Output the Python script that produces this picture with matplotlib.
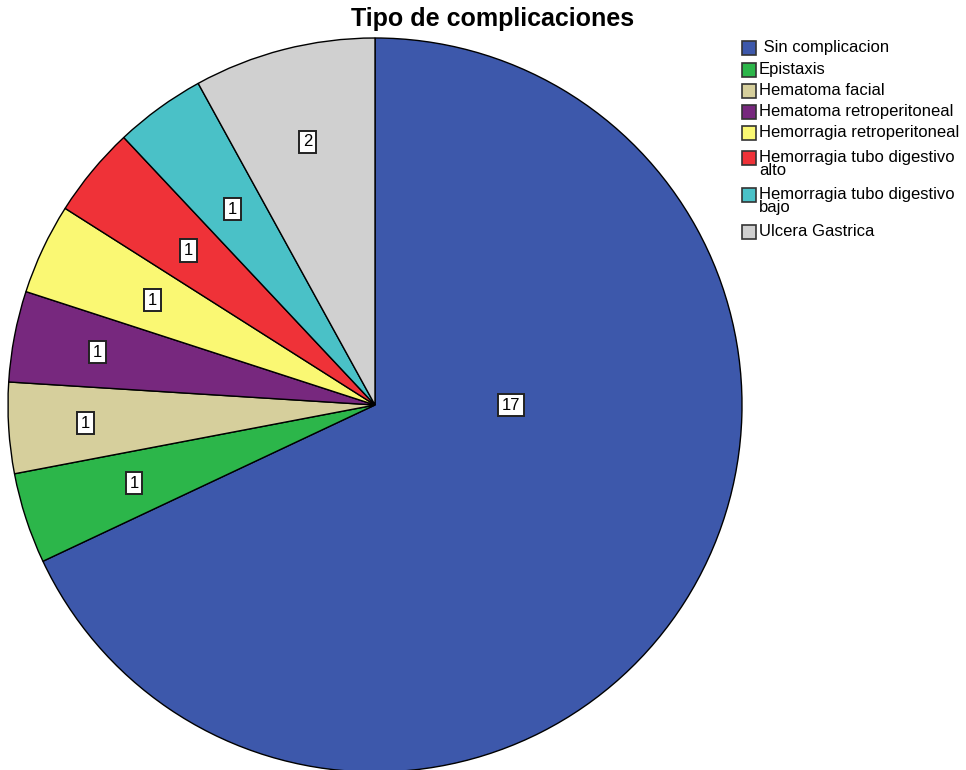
import matplotlib
matplotlib.use("Agg")
import matplotlib.pyplot as plt
from matplotlib.patches import Rectangle
import numpy as np

plt.rcParams['font.family'] = ['Liberation Sans', 'DejaVu Sans']

categories = [" Sin complicacion", "Epistaxis", "Hematoma facial", "Hematoma retroperitoneal",
              "Hemorragia retroperitoneal", "Hemorragia tubo digestivo\nalto",
              "Hemorragia tubo digestivo\nbajo", "Ulcera Gastrica"]
counts = [17, 1, 1, 1, 1, 1, 1, 2]
colors = ["#3D58AB", "#2CB64A", "#D6CF9C", "#77287E", "#FAF873", "#EF3238", "#4AC1C7", "#D0D0D0"]

W, H = 966, 770
fig = plt.figure(figsize=(W / 100, H / 100), dpi=100)

cx, cy, R = 375, 405, 367
ax = fig.add_axes([(cx - R) / W, (H - cy - R) / H, 2 * R / W, 2 * R / H])

wedges, _ = ax.pie(counts, colors=colors, startangle=90, counterclock=False, radius=1,
                   wedgeprops=dict(edgecolor="black", linewidth=1.0),
                   labels=None)
ax.set_xlim(-1, 1)
ax.set_ylim(-1, 1)
ax.axis("off")
for w in wedges:
    w.set_clip_on(False)

# radial placement of the value boxes (fraction of radius)
label_r = [0.37, 0.69, 0.79, 0.77, 0.67, 0.66, 0.66, 0.74]
box = dict(boxstyle="square,pad=0.22", facecolor="white", edgecolor="#222222", linewidth=1.4)
for w, c, r in zip(wedges, counts, label_r):
    if c == max(counts):
        x, y = r, 0.0
    else:
        mid = np.deg2rad((w.theta1 + w.theta2) / 2)
        x, y = r * np.cos(mid), r * np.sin(mid)
    ax.text(x, y, str(c), ha="center", va="center", fontsize=12, bbox=box, zorder=5)

fig.text(493 / W, 1 - 19 / H, "Tipo de complicaciones", ha="center", va="center",
         fontsize=18, fontweight="bold")

# legend drawn by hand
rows = [48, 70, 91, 112, 133, 158, 195, 232]
sq = 14
for lbl, col, yy in zip(categories, colors, rows):
    fig.patches.append(Rectangle(((742) / W, 1 - (yy + sq / 2) / H), sq / W, sq / H,
                                 transform=fig.transFigure, facecolor=col,
                                 edgecolor="#333333", linewidth=1.2))
    fig.text(759 / W, 1 - (yy - 8) / H, lbl, ha="left", va="top", fontsize=12,
             linespacing=0.85)

fig.savefig("out.png", dpi=100)
